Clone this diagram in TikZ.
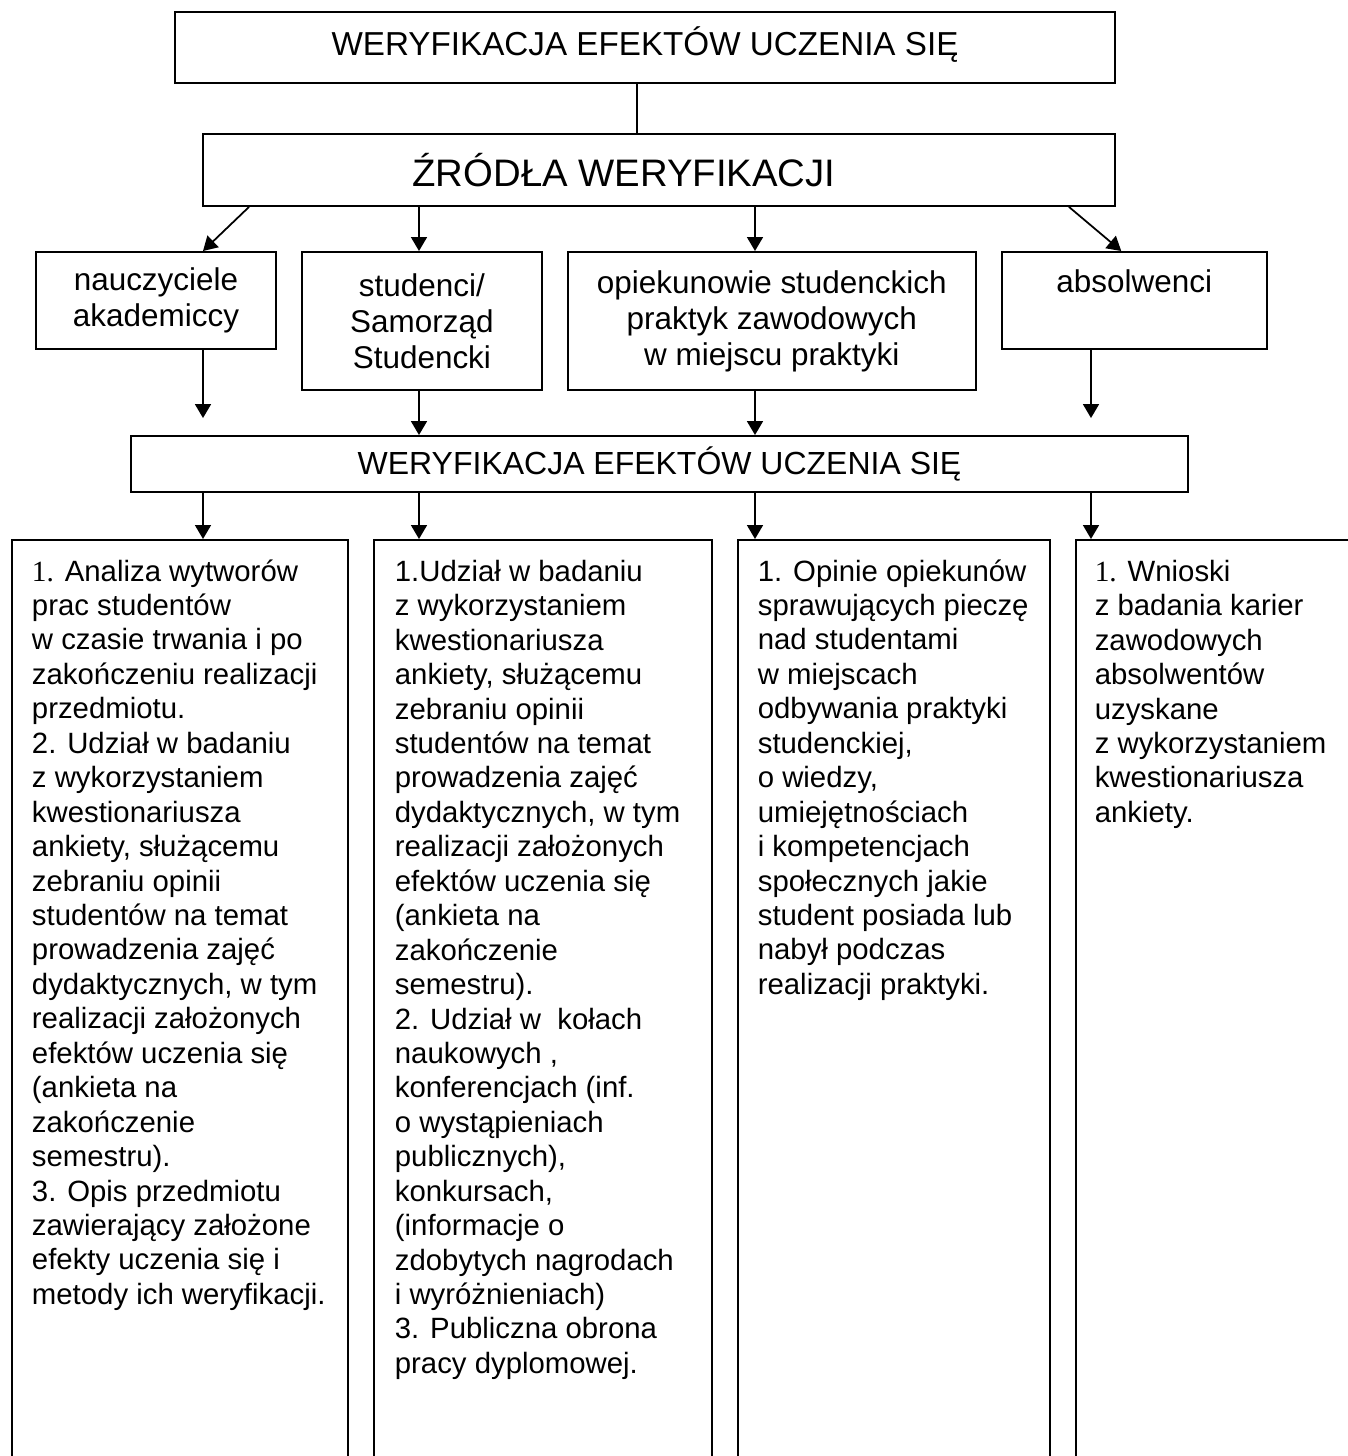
\documentclass[tikz,border=0pt]{standalone}
\usepackage{fontspec}
\setmainfont{Liberation Sans}
\newfontfamily\numfont{Liberation Serif}
\usetikzlibrary{arrows.meta,positioning}
\definecolor{ink}{HTML}{000000}

\begin{document}
\begin{tikzpicture}[
  line width=1.1pt,
  node distance=0.48cm,
  headbox/.style={draw=ink, minimum width=18.24cm, minimum height=1.42cm,
    inner sep=0pt, font=\fontsize{18.9}{22}\selectfont},
  srcbox/.style={draw=ink, minimum width=4.8cm, minimum height=1.94cm,
    align=center, inner sep=0pt, font=\fontsize{17.9}{20.5}\selectfont},
  listbox/.style={draw=ink, minimum height=19.4cm, inner sep=0pt},
  listtext/.style={anchor=north west, align=left, inner sep=0pt,
    font=\fontsize{16.7}{19.6}\selectfont},
  flowline/.style={-{Triangle[length=0.28cm, width=0.32cm]}, draw=ink,
    line width=1pt},
]
  \path[use as bounding box, clip] (0,0) rectangle (26.96,-29.12);

  % header
  \node[headbox, minimum width=18.8cm, label={[anchor=center, yshift=0.06cm,
    font=\fontsize{18.9}{22}\selectfont]center:WERYFIKACJA EFEKTÓW UCZENIA SIĘ}]
    (top) at (12.90,-0.95) {};
  \node[headbox, minimum height=1.44cm, below=0.98cm of top, xshift=0.28cm,
    label={[anchor=center, xshift=-0.7cm,
    font=\fontsize{21.8}{25}\selectfont]center:ŹRÓDŁA WERYFIKACJI}] (src) {};

  % sources
  \node[srcbox, anchor=north west] (nau) at (0.70,-5.02)
    {nauczyciele\\akademiccy};
  \node[srcbox, minimum height=2.76cm, right=of nau.north east,
    anchor=north west] (stu) {studenci/\\Samorząd\\Studencki};
  \node[srcbox, minimum width=8.16cm, minimum height=2.76cm,
    right=of stu.north east, anchor=north west] (opi)
    {opiekunowie studenckich\\praktyk zawodowych\\w miejscu praktyki};
  \node[srcbox, minimum width=5.3cm, text height=0.45cm, text depth=0.75cm,
    right=of opi.north east, anchor=north west] (abs) {absolwenci};

  \node[headbox, minimum width=21.14cm, minimum height=1.12cm,
    font=\fontsize{18.2}{21}\selectfont] (mid) at (13.19,-9.28)
    {WERYFIKACJA EFEKTÓW UCZENIA SIĘ};

  % methods
  \node[listbox, minimum width=6.72cm, anchor=north west] (b1) at (0.22,-10.78) {};
  \node[listbox, minimum width=6.76cm, right=of b1.north east, anchor=north west] (b2) {};
  \node[listbox, minimum width=6.24cm, right=of b2.north east, anchor=north west] (b3) {};
  \node[listbox, minimum width=6.8cm, right=of b3.north east, anchor=north west] (b4) {};

  \node[listtext] (t1) at ([xshift=0.40cm, yshift=-0.39cm]b1.north west)
    {{\numfont 1.} Analiza wytworów\\prac studentów\\w czasie trwania i po\\
     zakończeniu realizacji\\przedmiotu.\\2. Udział w badaniu\\
     z wykorzystaniem\\kwestionariusza\\ankiety, służącemu\\zebraniu opinii\\
     studentów na temat\\prowadzenia zajęć\\dydaktycznych, w tym\\
     realizacji założonych\\efektów uczenia się\\(ankieta na\\zakończenie\\
     semestru).\\3. Opis przedmiotu\\zawierający założone\\
     efekty uczenia się i\\metody ich weryfikacji.};
  \node[listtext] (t2) at ([xshift=0.42cm, yshift=-0.40cm]b2.north west)
    {1.Udział w badaniu\\z wykorzystaniem\\kwestionariusza\\
     ankiety, służącemu\\zebraniu opinii\\studentów na temat\\
     prowadzenia zajęć\\dydaktycznych, w tym\\realizacji założonych\\
     efektów uczenia się\\(ankieta na\\zakończenie\\semestru).\\
     2. Udział w~ kołach\\naukowych ,\\konferencjach (inf.\\o wystąpieniach\\
     publicznych),\\konkursach,\\(informacje o\\zdobytych nagrodach\\
     i wyróżnieniach)\\3. Publiczna obrona\\pracy dyplomowej.};
  \node[listtext] (t3) at ([xshift=0.40cm, yshift=-0.39cm]b3.north west)
    {1. Opinie opiekunów\\sprawujących pieczę\\nad studentami\\w miejscach\\
     odbywania praktyki\\studenckiej,\\o wiedzy,\\umiejętnościach\\
     i kompetencjach\\społecznych jakie\\student posiada lub\\nabył podczas\\
     realizacji praktyki.};
  \node[listtext] (t4) at ([xshift=0.38cm, yshift=-0.40cm]b4.north west)
    {{\numfont 1.} Wnioski\\z badania karier\\zawodowych\\absolwentów\\
     uzyskane\\z wykorzystaniem\\kwestionariusza\\ankiety.};

  % arrow columns
  \coordinate (colA) at (4.06,0);
  \coordinate (colB) at (8.38,0);
  \coordinate (colC) at (15.10,0);
  \coordinate (colD) at (21.82,0);

  \draw[line width=1pt] ([xshift=-0.16cm]top.south) -- ([xshift=-0.16cm]top.south |- src.north);
  \draw[flowline] ([xshift=0.94cm]src.south west) -- (colA |- nau.north);
  \draw[flowline] (colB |- src.south) -- (colB |- stu.north);
  \draw[flowline] (colC |- src.south) -- (colC |- opi.north);
  \draw[flowline] ([xshift=-0.94cm]src.south east) -- ([xshift=-0.26cm]abs.north);

  \draw[flowline, shorten >=0.34cm] (colA |- nau.south) -- (colA |- mid.north);
  \draw[flowline] (colB |- stu.south) -- (colB |- mid.north);
  \draw[flowline] (colC |- opi.south) -- (colC |- mid.north);
  \draw[flowline, shorten >=0.34cm] (colD |- abs.south) -- (colD |- mid.north);

  \foreach \c/\b in {colA/b1, colB/b2, colC/b3, colD/b4}
    \draw[flowline] (\c |- mid.south) -- (\c |- \b.north);
\end{tikzpicture}
\end{document}
